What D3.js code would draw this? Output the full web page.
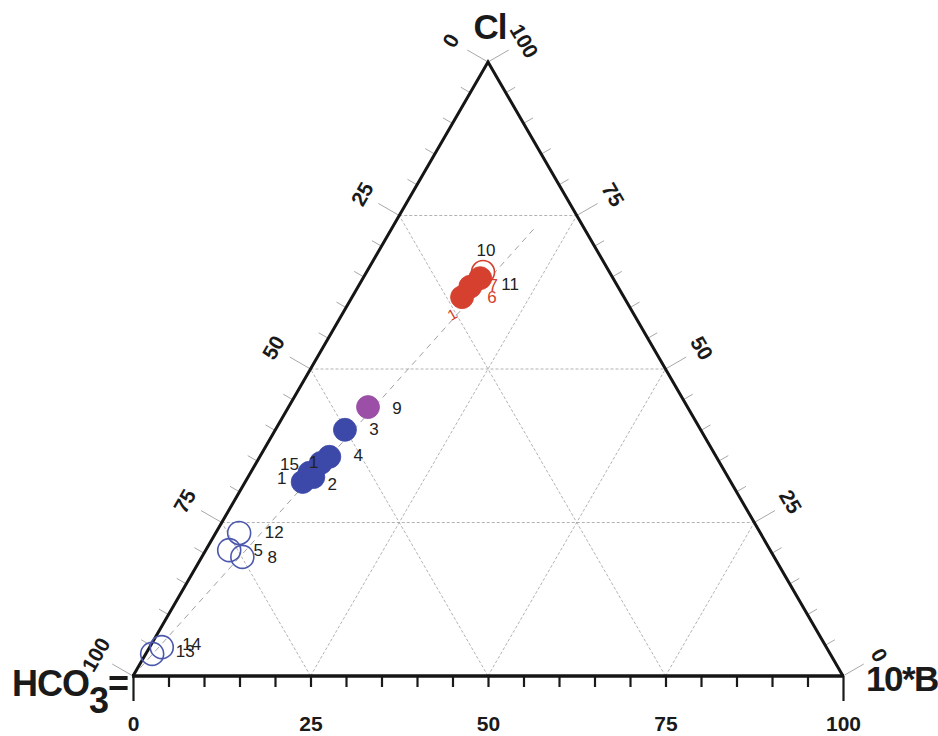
<!DOCTYPE html>
<html>
<head>
<meta charset="utf-8">
<script src="https://cdn.jsdelivr.net/npm/d3@7/dist/d3.min.js"></script>
<style>
  html, body { margin: 0; padding: 0; background: #fff; }
  svg { display: block; }
  text { font-family: "Liberation Sans", Arial, Helvetica, sans-serif; }
</style>
</head>
<body>
<svg id="chart" width="938" height="736"></svg>
<script>
// Sample compositions (percent of Cl, 10*B and HCO3)
const sampleIds = ["10", "11", "7", "6", "9", "3", "4", "1", "15", "1", "2", "12", "5", "8", "14", "13"];
const clPct     = [65.8, 64.8, 63.4, 61.7, 43.8, 40.1, 35.7, 34.7, 33.1, 31.6, 32.4, 23.3, 20.5, 19.4, 4.7, 3.6];
const bPct      = [16.4, 16.5, 15.8, 15.5, 11.2,  9.8,  9.8,  9.1,  8.3,  8.1,  9.2,  3.3,  3.3,  5.7, 1.7, 0.9];
const hco3Pct   = [17.8, 18.7, 20.8, 22.8, 45.0, 50.1, 54.5, 56.2, 58.6, 60.3, 58.4, 73.4, 76.2, 74.9, 93.6, 95.5];
const sampleGroup = ["redOpen", "red", "red", "red", "purple", "blue", "blue", "blue", "blue", "blue", "blue",
                     "blueOpen", "blueOpen", "blueOpen", "blueOpen", "blueOpen"];

// Axis tick values
const majorTicks = [0, 25, 50, 75, 100];
const gridValues = [25, 50, 75];

// Dashed reference line from the HCO3 apex (Cl, 10*B, HCO3)
const refLineCl   = [0, 73.0];
const refLineB    = [0, 20.1];
const refLineHCO3 = [100, 6.9];

// ---- styling / layout ----
const groupStyle = {
  red:      { fill: "#d6402f", stroke: "#d6402f", labelColor: "#222" },
  redOpen:  { fill: "#ffffff", stroke: "#d6402f", labelColor: "#222" },
  purple:   { fill: "#9b4fa6", stroke: "#9b4fa6", labelColor: "#222" },
  blue:     { fill: "#3c49a8", stroke: "#3c49a8", labelColor: "#222" },
  blueOpen: { fill: "none",    stroke: "#4b58ac", labelColor: "#222" }
};
// label offsets (px, text centre relative to the marker)
const labelOffset = [[3, -21], [30, 6], [23, -1], [30, 0], [29, 1], [29, 0], [29, -1], [-7, 0],
                     [-20, -8], [-21, -3], [19, 7], [35, 0], [29, 0], [30, 1], [30, -3], [33, -2]];
const labelColorOverride = { 2: "#d6402f", 3: "#d6402f" };

const svg = d3.select("#chart");

const xs = d3.scaleLinear().domain([0, 100]).range([133, 843]);
const ys = d3.scaleLinear().domain([0, 100]).range([676, 62]);

// ternary -> screen (normalised)
function pos(cl, b, h) {
  const s = cl + b + h;
  const c = cl / s * 100, bb = b / s * 100;
  return [xs(bb + c / 2), ys(c)];
}

const vH = pos(0, 0, 100), vB = pos(0, 100, 0), vC = pos(100, 0, 0);

// grid
const grid = svg.append("g").attr("stroke", "#a0a0a0").attr("stroke-width", 0.8)
  .attr("stroke-dasharray", "3,2").attr("fill", "none");
gridValues.forEach(v => {
  const segs = [
    [pos(v, 0, 100 - v), pos(v, 100 - v, 0)],          // constant Cl
    [pos(0, v, 100 - v), pos(100 - v, v, 0)],          // constant 10*B
    [pos(0, 100 - v, v), pos(100 - v, 0, v)]           // constant HCO3
  ];
  segs.forEach(s => grid.append("line")
    .attr("x1", s[0][0]).attr("y1", s[0][1]).attr("x2", s[1][0]).attr("y2", s[1][1]));
});

// reference line
const refPts = refLineCl.map((c, i) => pos(c, refLineB[i], refLineHCO3[i]));
svg.append("path")
  .attr("d", d3.line()(refPts))
  .attr("stroke", "#a0a0a0").attr("stroke-width", 1).attr("stroke-dasharray", "6,5").attr("fill", "none");

// edge ticks (left: HCO3, right: Cl)
const tickG = svg.append("g").attr("stroke", "#a8a8a8").attr("stroke-width", 1);
const nL = [-Math.cos(Math.PI / 6), -Math.sin(Math.PI / 6)];
const nR = [Math.cos(Math.PI / 6), -Math.sin(Math.PI / 6)];
d3.range(0, 101, 5).forEach(v => {
  const len = v % 25 === 0 ? 24 : 11;
  const pL = pos(100 - v, 0, v);      // HCO3 = v on left edge
  tickG.append("line").attr("x1", pL[0]).attr("y1", pL[1])
    .attr("x2", pL[0] + nL[0] * len).attr("y2", pL[1] + nL[1] * len);
  const pR = pos(v, 100 - v, 0);      // Cl = v on right edge
  tickG.append("line").attr("x1", pR[0]).attr("y1", pR[1])
    .attr("x2", pR[0] + nR[0] * len).attr("y2", pR[1] + nR[1] * len);
});

// edge tick labels
const lblG = svg.append("g").attr("font-size", 21).attr("font-weight", "bold").attr("fill", "#1a1a1a")
  .attr("text-anchor", "middle").attr("dominant-baseline", "central");
majorTicks.forEach(v => {
  const pL = pos(100 - v, 0, v);
  const xL = pL[0] + nL[0] * 43, yL = pL[1] + nL[1] * 43;
  lblG.append("text").attr("transform", `translate(${xL},${yL}) rotate(-60)`).text(v);
  const pR = pos(v, 100 - v, 0);
  const xR = pR[0] + nR[0] * 42, yR = pR[1] + nR[1] * 42;
  lblG.append("text").attr("transform", `translate(${xR},${yR}) rotate(60)`).text(v);
});

// bottom axis (10*B)
const axisG = svg.append("g").attr("transform", `translate(0,${vH[1]})`)
  .call(d3.axisBottom(xs).tickValues(d3.range(0, 101, 5)).tickSize(10).tickSizeOuter(0)
    .tickFormat(d => d % 25 === 0 ? d : ""));
axisG.select(".domain").remove();
axisG.selectAll(".tick line").attr("stroke", "#1a1a1a").attr("stroke-width", 2.2)
  .attr("y2", d => (d === 0 || d === 100) ? 25 : 11);
axisG.selectAll(".tick text").attr("y", 55).attr("dy", null)
  .attr("font-size", 21).attr("font-weight", "bold").attr("fill", "#1a1a1a")
  .attr("font-family", "Liberation Sans, Arial, sans-serif");

// triangle edges
svg.append("path")
  .attr("d", d3.line()([vH, vC, vB]))
  .attr("stroke", "#151515").attr("stroke-width", 3).attr("fill", "none").attr("stroke-linejoin", "miter");
svg.append("line").attr("x1", vH[0] - 1).attr("y1", vH[1]).attr("x2", vB[0] + 1).attr("y2", vB[1])
  .attr("stroke", "#151515").attr("stroke-width", 3.5);

// samples
const pts = sampleIds.map((id, i) => ({ id, i, p: pos(clPct[i], bPct[i], hco3Pct[i]), g: sampleGroup[i] }));
svg.append("g").selectAll("circle").data(pts).join("circle")
  .attr("cx", d => d.p[0]).attr("cy", d => d.p[1]).attr("r", 11.5)
  .attr("fill", d => groupStyle[d.g].fill)
  .attr("stroke", d => groupStyle[d.g].stroke)
  .attr("stroke-width", d => d.g.endsWith("Open") ? 1.6 : 0.8);

svg.append("g").attr("font-size", 17).attr("text-anchor", "middle").attr("dominant-baseline", "central")
  .selectAll("text").data(pts).join("text")
  .attr("x", d => d.p[0] + labelOffset[d.i][0])
  .attr("y", d => d.p[1] + labelOffset[d.i][1])
  .attr("fill", d => labelColorOverride[d.i] || groupStyle[d.g].labelColor)
  .text(d => d.id);

// small red marker label below the red cluster
const p6 = pos(clPct[3], bPct[3], hco3Pct[3]);
svg.append("text").attr("transform", `translate(${p6[0] - 10},${p6[1] + 17}) rotate(-30)`)
  .attr("font-size", 15).attr("fill", "#d6402f").attr("text-anchor", "middle").attr("dominant-baseline", "central")
  .text("1");

// apex titles
svg.append("text").attr("x", vC[0] + 2).attr("y", 39).attr("text-anchor", "middle")
  .attr("font-size", 35).attr("font-weight", "bold").attr("fill", "#1a1a1a").attr("letter-spacing", -1).text("Cl");

const hco = svg.append("text").attr("x", 12).attr("y", 696)
  .attr("font-size", 36).attr("font-weight", "bold").attr("fill", "#1a1a1a").attr("letter-spacing", -1);
hco.append("tspan").text("HCO");
hco.append("tspan").attr("dy", 17).text("3");
hco.append("tspan").attr("dy", -17).text("=");

svg.append("text").attr("x", 866).attr("y", 691)
  .attr("font-size", 35).attr("font-weight", "bold").attr("fill", "#1a1a1a").attr("letter-spacing", -1.5).text("10*B");
</script>
</body>
</html>
